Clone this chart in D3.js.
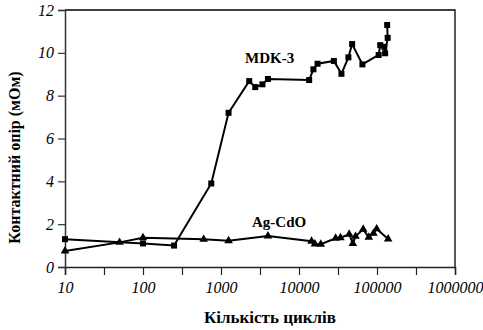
<!DOCTYPE html>
<html>
<head>
<meta charset="utf-8">
<script src="https://cdn.jsdelivr.net/npm/d3@7"></script>
<style>body { margin: 0; background: #fff; }</style>
</head>
<body>
<svg id="myChart" width="483" height="330" font-family="Liberation Serif"></svg>
<script>
// MDK-3 series (squares)
var mdkCycles = [10, 100, 250, 750, 1250, 2300, 2750, 3400, 4000, 13500, 15300, 17300, 28000, 35000, 43000, 48000, 65000, 105000, 110000, 124000, 127000, 137000, 135000];
var mdkValues = [1.3, 1.1, 1.0, 3.9, 7.2, 8.68, 8.4, 8.53, 8.78, 8.73, 9.23, 9.49, 9.62, 9.02, 9.79, 10.41, 9.46, 9.9, 10.36, 10.28, 9.98, 10.7, 11.3];

// Ag-CdO series (triangles)
var agCycles = [10, 50, 100, 600, 1250, 4000, 14500, 16000, 19000, 29500, 34000, 44000, 49000, 53000, 66500, 78500, 90000, 99000, 139000];
var agValues = [0.75, 1.15, 1.37, 1.29, 1.23, 1.45, 1.2, 1.07, 1.06, 1.34, 1.37, 1.53, 1.1, 1.43, 1.76, 1.39, 1.57, 1.78, 1.31];

var yTicks = [0, 2, 4, 6, 8, 10, 12];
var xLabels = [10, 100, 1000, 10000, 100000, 1000000];

// set the dimensions and margins of the graph
var margin = {top: 10, right: 28, bottom: 63, left: 65};
var innerW = 483 - margin.left - margin.right,
    innerH = 330 - margin.top - margin.bottom;

var svg = d3.select("#myChart")
  .append("g")
    .attr("transform", "translate(" + margin.left + "," + margin.top + ")");

var x = d3.scaleLog().domain([10, 1000000]).range([0, innerW]);
var y = d3.scaleLinear().domain([0, 12]).range([innerH, 0]);

// plot frame (top and right)
svg.append("path")
  .attr("d", "M0,0H" + innerW + "V" + innerH)
  .attr("fill", "none")
  .attr("stroke", "#000")
  .attr("stroke-width", 1.3);

// X axis: ticks at every decade and half decade
var xTickVals = d3.range(0, 11).map(function(k) { return 10 * Math.pow(10, k / 2); });
var xAxis = svg.append("g")
  .attr("transform", "translate(0," + innerH + ")")
  .call(d3.axisBottom(x).tickValues(xTickVals).tickSize(8).tickFormat(function(d) {
    return xLabels.indexOf(Math.round(d)) > -1 ? String(Math.round(d)) : "";
  }));
xAxis.attr("font-family", "Liberation Serif").attr("font-size", 16).attr("font-style", "italic");
xAxis.select(".domain").attr("stroke", "#222").attr("stroke-width", 1.5);
xAxis.selectAll(".tick line").attr("stroke", "#222").attr("stroke-width", 1.2);
xAxis.selectAll(".tick text").attr("y", 11).attr("dy", "0.95em").attr("fill", "#000");

// Y axis
var yAxis = svg.append("g")
  .call(d3.axisLeft(y).tickValues(yTicks).tickSize(7));
yAxis.attr("font-family", "Liberation Serif").attr("font-size", 16).attr("font-style", "italic");
yAxis.select(".domain").attr("stroke", "#333").attr("stroke-width", 1.5);
yAxis.selectAll(".tick line").attr("stroke", "#333").attr("stroke-width", 1.2);
yAxis.selectAll(".tick text").attr("x", -11).attr("fill", "#000");

var line = d3.line()
  .x(function(d) { return x(d[0]); })
  .y(function(d) { return y(d[1]); });

var mdkData = mdkCycles.map(function(c, i) { return [c, mdkValues[i]]; });
var agData = agCycles.map(function(c, i) { return [c, agValues[i]]; });

// Lines
[agData, mdkData].forEach(function(series) {
  svg.append("path")
    .datum(series)
    .attr("d", line)
    .attr("fill", "none")
    .attr("stroke", "#000")
    .attr("stroke-width", 2);
});

// Markers
svg.selectAll(".sq")
  .data(mdkData)
  .enter()
  .append("rect")
    .attr("x", function(d) { return x(d[0]) - 3; })
    .attr("y", function(d) { return y(d[1]) - 3; })
    .attr("width", 6)
    .attr("height", 6)
    .attr("fill", "#000");

var tri = d3.symbol().type(d3.symbolTriangle).size(32);
svg.selectAll(".tri")
  .data(agData)
  .enter()
  .append("path")
    .attr("d", tri)
    .attr("transform", function(d) { return "translate(" + x(d[0]) + "," + y(d[1]) + ")"; })
    .attr("fill", "#000");

// Series labels
svg.append("text")
  .attr("x", 180).attr("y", 53)
  .attr("font-family", "Liberation Serif").attr("font-size", 15).attr("font-weight", "bold")
  .text("MDK-3");

svg.append("text")
  .attr("x", 187).attr("y", 217)
  .attr("font-family", "Liberation Serif").attr("font-size", 15).attr("font-weight", "bold")
  .text("Ag-CdO");

// Axis titles
svg.append("text")
  .attr("x", innerW / 2 + 10).attr("y", innerH + 56)
  .attr("text-anchor", "middle")
  .attr("font-family", "Liberation Serif").attr("font-size", 17).attr("font-weight", "bold")
  .text("Кількість циклів");

svg.append("text")
  .attr("transform", "translate(-45," + (innerH / 2 + 19) + ") rotate(-90)")
  .attr("text-anchor", "middle")
  .attr("font-family", "Liberation Serif").attr("font-size", 16).attr("font-weight", "bold")
  .text("Контактний опір (мОм)");
</script>
</body>
</html>
